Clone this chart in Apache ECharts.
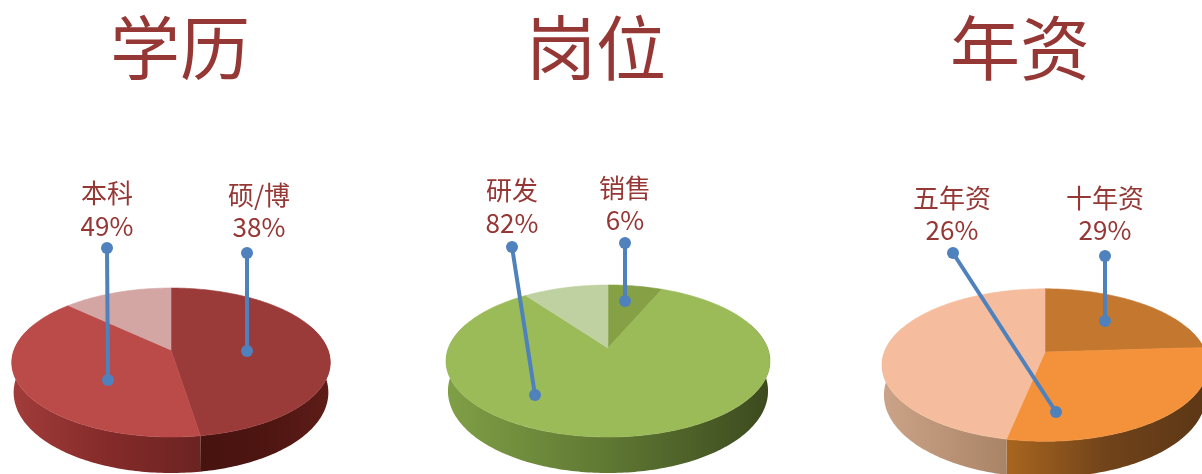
<!DOCTYPE html>
<html><head><meta charset="utf-8">
<style>html,body{margin:0;padding:0;background:#fff}#c{width:1202px;height:474px}</style>
<script src="https://cdn.jsdelivr.net/npm/echarts@6/dist/echarts.min.js"></script>
</head><body><div id="c"></div>
<script>
// Data
const titles = ['学历', '岗位', '年资'];
const eduShares = [47.5, 39.5, 13];   // drawn wedge sizes, clockwise from 12 o'clock
const jobShares = [6.4, 83.6, 10];
const ageShares = [24, 29.2, 46.8];
const eduLabels = ['本科', '硕/博'];
const eduPercents = ['49%', '38%'];
const jobLabels = ['研发', '销售'];
const jobPercents = ['82%', '6%'];
const ageLabels = ['五年资', '十年资'];
const agePercents = ['26%', '29%'];

// Styling and layout
const FONT = '"Noto Sans CJK SC","Noto Sans",sans-serif';
const TEXT = '#953735';
const BLUE = '#4f81bd';
const LOWER_SCALE = 0.988;
const pies = [
  { shares: eduShares, cx: 171, cy: 350, A: 157, B: 72.4, p: 0.168, depth: 36, titleX: 175,
    tops: ['#9a3b39', '#bb4b49', '#d3a6a4'],
    walls: [
      { x0: 201, x1: 331, stops: ['#47130f', '#4e1511', '#5e1d19'] },
      { x0: 12, x1: 201, stops: ['#a23c3a', '#842b2a', '#6c2322'] },
      null] },
  { shares: jobShares, cx: 608, cy: 348, A: 159.6, B: 73.8, p: 0.171, depth: 36, titleX: 591,
    tops: ['#85a045', '#9bbb59', '#c0d1a1'],
    walls: [
      null,
      { x0: 445, x1: 770, stops: ['#80a046', '#5f7833', '#3c4a1e'] },
      null] },
  { shares: ageShares, cx: 1045, cy: 352, A: 160.6, B: 74, p: 0.171, depth: 36, titleX: 1015,
    tops: ['#c4772f', '#f4923c', '#f5bd9d'],
    walls: [
      { x0: 1100, x1: 1206, stops: ['#5c3716', '#5e3816', '#6b431d'] },
      { x0: 1008, x1: 1206, stops: ['#a8651f', '#70431a', '#5c3716'] },
      { x0: 882, x1: 1008, stops: ['#cba388', '#bb9478', '#a98366'] }] }
];
const labelSets = [
  { names: eduLabels, pcts: eduPercents, pos: [[107, 193, 226], [259, 195, 227]],
    leaders: [[107, 248, 108, 380], [247, 253, 247, 351]] },
  { names: jobLabels, pcts: jobPercents, pos: [[512, 190, 223], [625, 188, 220]],
    leaders: [[512, 247, 535, 395], [625, 243, 625, 301]] },
  { names: ageLabels, pcts: agePercents, pos: [[952, 198, 230], [1105, 198, 230]],
    leaders: [[953, 253, 1056, 412], [1105, 256, 1105, 321]] }
];

function rimPoint(pie, deg) {
  const t = deg * Math.PI / 180, w = 1 + pie.p * Math.cos(t);
  return [pie.cx + pie.A * Math.sin(t) / w, pie.cy - pie.B * Math.cos(t) / w];
}
function lowerPoint(pie, deg) {
  const q = rimPoint(pie, deg), c = Math.cos(deg * Math.PI / 180);
  return [pie.cx + (q[0] - pie.cx) * LOWER_SCALE, q[1] + pie.depth * (0.8 - 0.2 * c)];
}
function sliceRange(pie, i) {
  let s = 0;
  for (let k = 0; k < i; k++) s += pie.shares[k];
  return [s * 3.6, (s + pie.shares[i]) * 3.6];
}
const sliceData = [];
pies.forEach((pie, pi) => pie.shares.forEach((v, si) => sliceData.push([pi, si, v])));

function renderWall(params, api) {
  const pie = pies[api.value(0)], si = api.value(1), wall = pie.walls[si];
  if (!wall) return { type: 'group', children: [] };
  const r = sliceRange(pie, si);
  const a = Math.max(r[0], 70), b = Math.min(r[1], 290);
  if (b <= a) return { type: 'group', children: [] };
  const pts = [];
  for (let d = a; d < b; d += 1) pts.push(rimPoint(pie, d));
  pts.push(rimPoint(pie, b));
  pts.push(lowerPoint(pie, b));
  for (let d = b - 1; d > a; d -= 1) pts.push(lowerPoint(pie, d));
  pts.push(lowerPoint(pie, a));
  const n = wall.stops.length;
  return {
    type: 'polygon', shape: { points: pts },
    style: {
      fill: { type: 'linear', x: wall.x0, y: 0, x2: wall.x1, y2: 0, global: true,
        colorStops: wall.stops.map((c, i) => ({ offset: i / (n - 1), color: c })) }
    }
  };
}
function renderTop(params, api) {
  const pie = pies[api.value(0)], si = api.value(1);
  const r = sliceRange(pie, si);
  const pts = [[pie.cx, pie.cy]];
  for (let d = r[0]; d < r[1]; d += 1) pts.push(rimPoint(pie, d));
  pts.push(rimPoint(pie, r[1]));
  return {
    type: 'polygon', shape: { points: pts },
    style: { fill: pie.tops[si], stroke: pie.tops[si], lineWidth: 0.6 }
  };
}

const graphic = [];
labelSets.forEach(set => {
  set.leaders.forEach((l, i) => {
    graphic.push({ type: 'line', z: 10, shape: { x1: l[0], y1: l[1], x2: l[2], y2: l[3] },
      style: { stroke: BLUE, lineWidth: 4 } });
    graphic.push({ type: 'circle', z: 10, shape: { cx: l[0], cy: l[1], r: 6 }, style: { fill: BLUE } });
    graphic.push({ type: 'circle', z: 10, shape: { cx: l[2], cy: l[3], r: 6 }, style: { fill: BLUE } });
    const p = set.pos[i];
    graphic.push({ type: 'text', z: 11, x: p[0], y: p[1], style: { text: set.names[i], fill: TEXT,
      font: '26px ' + FONT, textAlign: 'center', textVerticalAlign: 'middle' } });
    graphic.push({ type: 'text', z: 11, x: p[0], y: p[2], style: { text: set.pcts[i], fill: TEXT,
      font: '26px ' + FONT, textAlign: 'center', textVerticalAlign: 'middle' } });
  });
});

const chart = echarts.init(document.getElementById('c'), null, { renderer: 'canvas' });
chart.setOption({
  animation: false,
  backgroundColor: '#ffffff',
  title: titles.map((t, i) => ({
    text: t, left: pies[i].titleX, top: 8, textAlign: 'center',
    textStyle: { color: TEXT, fontFamily: FONT, fontSize: 70, fontWeight: 'normal' }
  })),
  series: [
    { type: 'custom', coordinateSystem: 'none', data: sliceData, renderItem: renderWall, silent: true, z: 1, clip: false },
    { type: 'custom', coordinateSystem: 'none', data: sliceData, renderItem: renderTop, silent: true, z: 2, clip: false }
  ],
  graphic: graphic
});
</script></body></html>
